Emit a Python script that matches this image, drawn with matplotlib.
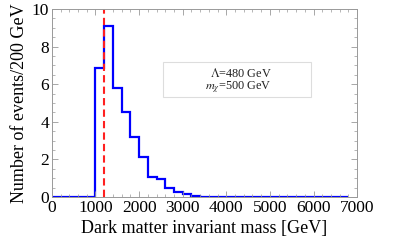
import numpy as np
import matplotlib
matplotlib.use("Agg")
import matplotlib.pyplot as plt
from matplotlib.patches import Rectangle
from matplotlib.ticker import MultipleLocator

plt.rcParams["font.family"] = ["Liberation Serif", "DejaVu Serif"]
plt.rcParams["mathtext.fontset"] = "stix"

# 200 GeV bins from 0 to 6800 GeV
bin_edges = np.arange(0, 6801, 200)
counts = [0, 0, 0, 0, 0,
          6.85, 9.1, 5.8, 4.5, 3.2, 2.1, 1.07, 0.93, 0.45, 0.25, 0.17,
          0.04, 0.02] + [0] * 16
threshold = 1200  # red dashed marker [GeV]
labels = [r"$\Lambda$=480 GeV", r"$m_\chi$=500 GeV"]

fig = plt.figure(figsize=(3.99, 2.49), dpi=100)
ax = fig.add_axes([0.130, 0.209, 0.765, 0.755])

ax.stairs(counts, bin_edges, color="#0000ff", lw=1.6)
ax.axvline(threshold, color="#ff2020", lw=1.5, ls=(0, (3.5, 2)))

ax.set_xlim(0, 7000)
ax.set_ylim(0, 10)
ax.xaxis.set_major_locator(MultipleLocator(1000))
ax.xaxis.set_minor_locator(MultipleLocator(200))
ax.yaxis.set_major_locator(MultipleLocator(2))
ax.yaxis.set_minor_locator(MultipleLocator(0.5))
ax.tick_params(which="both", direction="in", top=True, right=True,
               color="#999999", labelsize=12.5, pad=2)
ax.tick_params(which="major", length=4, width=0.6)
ax.tick_params(which="minor", length=2, width=0.5)
for s in ax.spines.values():
    s.set_color("#999999")
    s.set_linewidth(0.7)

ax.set_xlabel("Dark matter invariant mass [GeV]", fontsize=13, labelpad=3)
ax.set_ylabel("Number of events/200 GeV", fontsize=13, labelpad=3)

# legend-style box
ax.add_patch(Rectangle((0.364, 0.532), 0.484, 0.186, transform=ax.transAxes,
                       fc="white", ec="#dddddd", lw=0.8))
for lab, yy in zip(labels, [0.655, 0.578]):
    ax.text(0.720, yy, lab, transform=ax.transAxes,
            ha="right", va="center", fontsize=8.8, color="#222222")

fig.savefig("out.png", dpi=100)
